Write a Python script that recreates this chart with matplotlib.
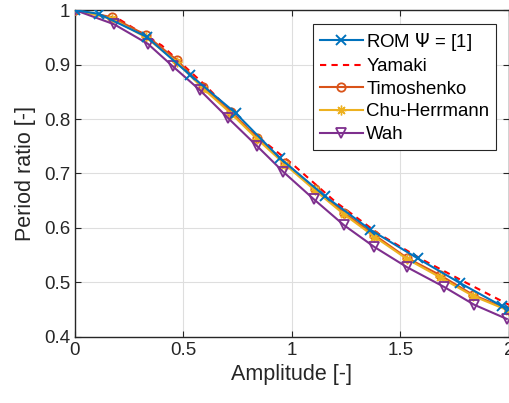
import numpy as np
import matplotlib
matplotlib.use("Agg")
import matplotlib.pyplot as plt

plt.rcParams['font.family'] = ['Liberation Sans', 'DejaVu Sans']

# ROM
rom_a = [0, 0.11, 0.33, 0.53, 0.74, 0.945, 1.15, 1.36, 1.58, 1.774, 1.97, 2.0]
rom_p = [1.0, 0.993, 0.951, 0.881, 0.811, 0.728, 0.659, 0.597, 0.544, 0.499, 0.456, 0.452]

# Yamaki (dashed)
yam_a = [0, 0.2, 0.4, 0.6, 0.8, 1.0, 1.2, 1.4, 1.6, 1.8, 2.0]
yam_p = [1.0, 0.984, 0.935, 0.862, 0.781, 0.718, 0.648, 0.589, 0.542, 0.500, 0.459]

# Timoshenko
tim_a = [0, 0.17, 0.327, 0.47, 0.59, 0.72, 0.84, 0.97, 1.106, 1.24, 1.38, 1.53, 1.68, 1.835, 2.0]
tim_p = [1.0, 0.987, 0.954, 0.908, 0.859, 0.813, 0.765, 0.719, 0.672, 0.628, 0.587, 0.545, 0.514, 0.477, 0.45]

# Chu-Herrmann
chu_a = [0, 0.17, 0.327, 0.47, 0.59, 0.72, 0.84, 0.97, 1.106, 1.24, 1.38, 1.53, 1.68, 1.835, 2.0]
chu_p = [1.0, 0.984, 0.950, 0.904, 0.856, 0.810, 0.763, 0.716, 0.669, 0.625, 0.584, 0.543, 0.510, 0.475, 0.448]

# Wah
wah_a = [0, 0.18, 0.336, 0.45, 0.576, 0.705, 0.84, 0.96, 1.10, 1.24, 1.38, 1.53, 1.70, 1.84, 1.99]
wah_p = [1.0, 0.974, 0.938, 0.897, 0.853, 0.802, 0.75, 0.703, 0.653, 0.605, 0.565, 0.528, 0.492, 0.459, 0.433]

blue = (0, 0.447, 0.741)
orange = (0.85, 0.325, 0.098)
yellow = (0.929, 0.694, 0.125)
purple = (0.494, 0.184, 0.556)
dark = (0.15, 0.15, 0.15)

fig = plt.figure(figsize=(5.1, 4.03), dpi=100)
ax = fig.add_axes([0.147, 0.164, 0.851, 0.811])

ax.plot(rom_a, rom_p, color=blue, lw=1.5, marker='x', ms=7, mew=1.4,
        label=r'ROM $\Psi$ = [1]', zorder=6)
ax.plot(yam_a, yam_p, color='red', lw=1.5, ls='--', dashes=(3, 2.5),
        label='Yamaki', zorder=3)
ax.plot(tim_a, tim_p, color=orange, lw=1.5, marker='o', ms=6, mfc='none', mew=1.3,
        label='Timoshenko', zorder=4)
ax.plot(chu_a, chu_p, color=yellow, lw=1.5, marker=(8, 2, 0), ms=7, mew=1.0,
        label='Chu-Herrmann', zorder=4)
ax.plot(wah_a, wah_p, color=purple, lw=1.5, marker='v', ms=7, mfc='none', mew=1.3,
        label='Wah', zorder=5)

ax.set_xlim(0, 2)
ax.set_ylim(0.4, 1)
ax.set_xticks([0, 0.5, 1, 1.5, 2])
ax.set_xticklabels(['0', '0.5', '1', '1.5', '2'])
ax.set_yticks([0.4, 0.5, 0.6, 0.7, 0.8, 0.9, 1])
ax.set_yticklabels(['0.4', '0.5', '0.6', '0.7', '0.8', '0.9', '1'])
ax.grid(True, color=(0.87, 0.87, 0.87), lw=0.8)
ax.set_axisbelow(True)
ax.tick_params(direction='in', top=True, right=True, labelsize=13.5,
               colors=dark, length=4)
for s in ax.spines.values():
    s.set_color(dark)
    s.set_linewidth(1.0)

ax.set_xlabel('Amplitude [-]', fontsize=15.5, color=dark, labelpad=4)
ax.set_ylabel('Period ratio [-]', fontsize=15.5, color=dark, labelpad=6)

leg = ax.legend(loc='upper right', bbox_to_anchor=(0.97, 0.957), fontsize=13.4,
                fancybox=False, framealpha=1, edgecolor=dark,
                handlelength=2.3, borderpad=0.35, labelspacing=0.3,
                handletextpad=0.2, borderaxespad=0)
leg.get_frame().set_linewidth(0.8)

fig.savefig('out.png', dpi=100)
